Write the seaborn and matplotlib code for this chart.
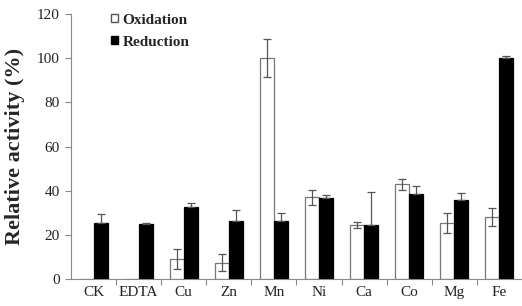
import matplotlib
matplotlib.use("Agg")
import matplotlib.pyplot as plt
import seaborn as sns
import pandas as pd
import numpy as np
from matplotlib.patches import Patch

categories = ["CK", "EDTA", "Cu", "Zn", "Mn", "Ni", "Ca", "Co", "Mg", "Fe"]
oxidation = [0, 0, 9, 7.5, 100, 37, 24.5, 43, 25.5, 28]
oxidation_err = [0, 0, 4.5, 4, 8.5, 3.5, 1.5, 2.5, 4.5, 4]
reduction = [25.5, 25, 32.5, 26.5, 26.5, 36.5, 24.5, 38.5, 36, 100]
reduction_err = [4, 0.5, 2, 5, 3.5, 1.5, 15, 3.5, 3, 1]

sns.set_style("white")
plt.rcParams["font.family"] = ["Liberation Serif", "DejaVu Serif"]

df = pd.DataFrame({
    "Metal": categories * 2,
    "Value": oxidation + reduction,
    "Series": ["Oxidation"] * len(categories) + ["Reduction"] * len(categories),
})

fig = plt.figure(figsize=(5.22, 3.06), dpi=100)
ax = fig.add_axes([0.136, 0.088, 0.864, 0.866])

sns.barplot(data=df, x="Metal", y="Value", hue="Series", order=categories,
            hue_order=["Oxidation", "Reduction"],
            palette={"Oxidation": "white", "Reduction": "black"},
            errorbar=None, width=0.62, ax=ax, legend=False,
            edgecolor="#777777", linewidth=0.9, zorder=2)

n = len(categories)
patches = ax.patches[:2 * n]
ox_p = patches[:n]
red_p = patches[n:]
for p in red_p:
    p.set_edgecolor("black")

ox_x = [p.get_x() + p.get_width() / 2 for p in ox_p]
red_x = [p.get_x() + p.get_width() / 2 for p in red_p]

ox_idx = [i for i in range(n) if oxidation[i] > 0]
ax.errorbar([ox_x[i] for i in ox_idx], [oxidation[i] for i in ox_idx],
            yerr=[oxidation_err[i] for i in ox_idx], fmt="none",
            ecolor="#555555", elinewidth=0.9, capsize=3, capthick=0.9, zorder=3)
ax.errorbar(red_x, reduction, yerr=[[0] * n, reduction_err], fmt="none",
            ecolor="#555555", elinewidth=0.9, capsize=3, capthick=0.9, zorder=3)

ax.set_ylim(0, 120)
ax.set_xlim(-0.5, n - 0.5)
ax.set_yticks(range(0, 121, 20))
ax.tick_params(axis="y", labelsize=11, length=4, width=0.8, color="#888888",
               direction="out", left=True, pad=4, labelcolor="#222222")
ax.set_xticks(range(n))
ax.set_xticklabels(categories, fontsize=11, color="#222222")
ax.tick_params(axis="x", length=0, pad=5)
ax.set_xticks(np.arange(0.5, n - 0.5, 1), minor=True)
ax.tick_params(axis="x", which="minor", length=4, width=0.8, color="#888888",
               direction="out", bottom=True)

for s in ["top", "right"]:
    ax.spines[s].set_visible(False)
for s in ["left", "bottom"]:
    ax.spines[s].set_color("#888888")
    ax.spines[s].set_linewidth(0.8)

ax.set_xlabel("")
ax.set_ylabel("Relative activity (%)", fontsize=16, fontweight="bold", labelpad=9)

handles = [Patch(facecolor="white", edgecolor="#555555", label="Oxidation"),
           Patch(facecolor="black", edgecolor="black", label="Reduction")]
ax.legend(handles=handles, loc="upper left", bbox_to_anchor=(0.075, 1.025), frameon=False,
          prop={"weight": "bold", "size": 11}, handlelength=0.45, handleheight=0.45,
          handletextpad=0.3, labelspacing=0.6, borderaxespad=0)

fig.savefig("out.png", dpi=100)
